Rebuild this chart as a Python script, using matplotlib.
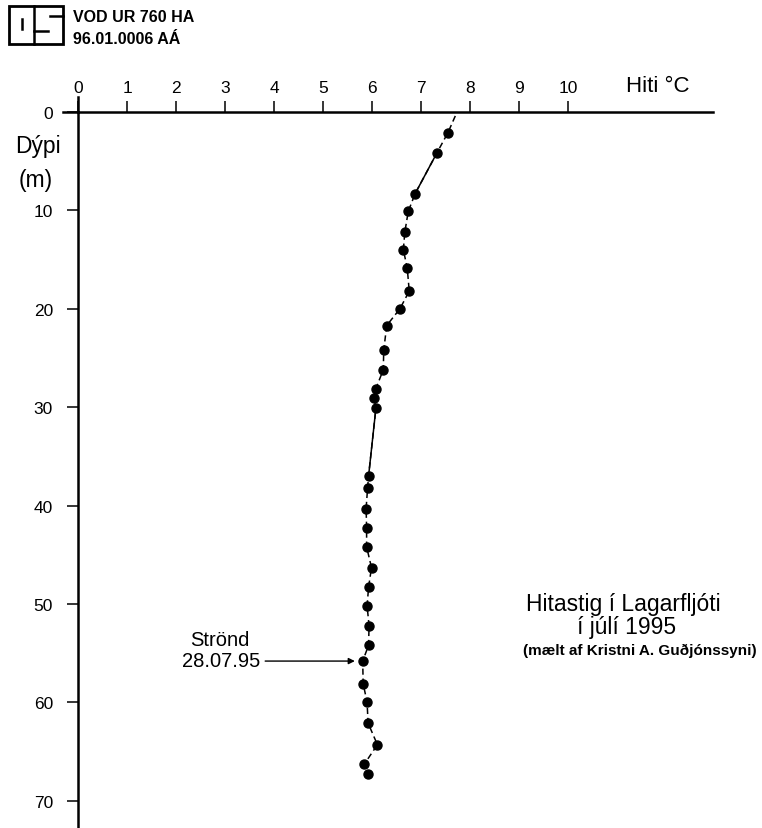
import numpy as np
import matplotlib
matplotlib.use('Agg')
import matplotlib.pyplot as plt
from matplotlib.patches import Rectangle
from matplotlib.lines import Line2D

#%% Data
depth = [2.1, 4.2, 8.3, 10.1, 12.2, 14.0, 15.9, 18.2, 20.0, 21.7,
         24.2, 26.2, 28.1, 29.1, 30.1, 37.0, 38.2, 40.3, 42.3, 44.2,
         46.3, 48.3, 50.2, 52.2, 54.2, 55.8, 58.1, 60.0, 62.1, 64.3,
         66.3, 67.3]
temp = [7.55, 7.32, 6.88, 6.74, 6.67, 6.64, 6.72, 6.76, 6.57, 6.30,
        6.24, 6.23, 6.08, 6.04, 6.08, 5.93, 5.91, 5.88, 5.89, 5.89,
        5.99, 5.93, 5.90, 5.94, 5.93, 5.81, 5.82, 5.90, 5.92, 6.11,
        5.84, 5.91]
surface_temp = 7.7
surface_depth = 0.4

x_ticks = [0, 1, 2, 3, 4, 5, 6, 7, 8, 9, 10]
y_ticks = [0, 10, 20, 30, 40, 50, 60, 70]

# the two stretches drawn with a solid pen instead of dashes
solid_spans = [(1, 2), (14, 15)]

#%% Figure
W, H = 762, 829
fig = plt.figure(figsize=(W / 100, H / 100), dpi=100)
plt.rcParams['font.family'] = ['Liberation Sans', 'DejaVu Sans']

def px(x, y):
    return x / W, 1 - y / H

x0, x1 = 78, 713
ytop = 113
ax = fig.add_axes([x0 / W, 0, (x1 - x0) / W, 1 - ytop / H])
xmax = (x1 - x0) / 49.0
ymax = (H - ytop) / 9.84
ax.set_xlim(0, xmax)
ax.set_ylim(ymax, 0)

for s in ['right', 'bottom']:
    ax.spines[s].set_visible(False)
ax.spines['top'].set_linewidth(1.8)
ax.spines['left'].set_linewidth(1.8)

ax.xaxis.tick_top()
ax.set_xticks(x_ticks)
ax.set_xticklabels([str(t) for t in x_ticks])
ax.tick_params(axis='x', direction='out', length=8, width=1.1, pad=4, labelsize=12.5)
ax.set_yticks(y_ticks)
ax.set_yticklabels([str(t) for t in y_ticks])
ax.tick_params(axis='y', direction='out', length=8, width=1.1, pad=10, labelsize=12.5)

# small extensions of the frame beyond the corner
ax.add_line(Line2D([0, 0], [0, -1.5], color='black', lw=1.8, clip_on=False))
ax.add_line(Line2D([-0.3, 0], [0, 0], color='black', lw=1.8, clip_on=False))

# profile
line_t = [surface_temp] + temp
line_d = [surface_depth] + depth
ax.plot(line_t, line_d, color='black', lw=1.1, linestyle=(0, (4, 2.5)), zorder=2)
for a, b in solid_spans:
    ax.plot(temp[a:b + 1], depth[a:b + 1], color='black', lw=1.1, zorder=2)
ax.plot(temp, depth, 'o', color='black', markersize=6.5, zorder=3)

# Strönd annotation
ax.annotate('', xy=(temp[25] - 0.16, depth[25]), xytext=(3.82, depth[25]),
            arrowprops=dict(arrowstyle='-|>', color='black', lw=1.0,
                            mutation_scale=9, shrinkA=0, shrinkB=0))
fig.text(*px(220, 641), 'Strönd', ha='center', va='center', fontsize=14.5)
fig.text(*px(221, 662), '28.07.95', ha='center', va='center', fontsize=14.5)

# labels
fig.text(*px(658, 86), 'Hiti °C', ha='center', va='center', fontsize=16)
fig.text(*px(38, 146), 'Dýpi', ha='center', va='center', fontsize=16.5)
fig.text(*px(36, 181), '(m)', ha='center', va='center', fontsize=16.5)

fig.text(*px(623, 604), 'Hitastig í Lagarfljóti', ha='center', va='center', fontsize=16.5)
fig.text(*px(627, 628), 'í júlí 1995', ha='center', va='center', fontsize=16.5)
fig.text(*px(640, 651), '(mælt af Kristni A. Guðjónssyni)', ha='center', va='center',
         fontsize=11, fontweight='bold')

# stamp in the corner
fig.text(*px(73, 17), 'VOD UR 760 HA', ha='left', va='center', fontsize=11.5, fontweight='bold')
fig.text(*px(73, 40), '96.01.0006 AÁ', ha='left', va='center', fontsize=11.5, fontweight='bold')

def seg(xa, ya, xb, yb):
    (fx1, fy1), (fx2, fy2) = px(xa, ya), px(xb, yb)
    fig.add_artist(Line2D([fx1, fx2], [fy1, fy2], color='black', lw=1.8,
                          transform=fig.transFigure))

fig.add_artist(Rectangle(px(9, 45), 54 / W, 38 / H, fill=False, lw=2.0,
                         edgecolor='black', transform=fig.transFigure))
seg(34, 7, 34, 45)
seg(22, 20, 22, 30)
seg(34, 32, 48, 32)
seg(50, 17, 63, 17)

fig.savefig('out.png', dpi=100)
